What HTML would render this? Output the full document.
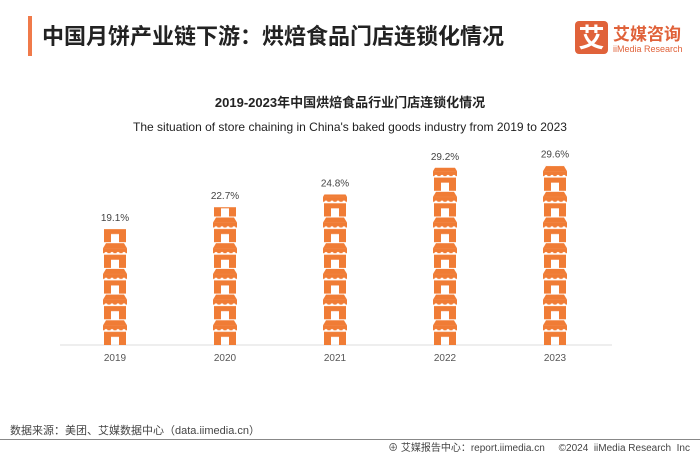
<!DOCTYPE html>
<html><head><meta charset="utf-8"><style>
body{margin:0;width:700px;height:455px;background:#fff;overflow:hidden;font-family:"Liberation Sans","Noto Sans CJK SC",sans-serif}
</style></head><body>
<svg width="700" height="455" viewBox="0 0 700 455" xmlns="http://www.w3.org/2000/svg">
<rect x="28" y="16" width="4" height="40" fill="#f07a4a"/>
<text x="42" y="44" font-size="22" font-weight="bold" fill="#222" font-family="Liberation Sans,Noto Sans CJK SC,sans-serif">中国月饼产业链下游：烘焙食品门店连锁化情况</text>
<g>
<rect x="575" y="21" width="33" height="33" rx="4" fill="#e0623a"/>
<text x="591.5" y="47" font-size="26" font-weight="bold" fill="#fff" text-anchor="middle" font-family="Noto Sans CJK SC,sans-serif">艾</text>
<text x="613" y="40" font-size="17" font-weight="bold" fill="#e0623a" font-family="Noto Sans CJK SC,sans-serif">艾媒咨询</text>
<text x="613" y="52" font-size="9" fill="#e0623a">iiMedia Research</text>
</g>
<text x="350" y="107" font-size="13" font-weight="bold" fill="#222" text-anchor="middle" font-family="Liberation Sans,Noto Sans CJK SC,sans-serif">2019-2023年中国烘焙食品行业门店连锁化情况</text>
<text x="350" y="131" font-size="12" fill="#222" text-anchor="middle">The situation of store chaining in China's baked goods industry from 2019 to 2023</text>
<line x1="60" y1="345" x2="612" y2="345" stroke="#ddd" stroke-width="1"/>
<defs id="defs"></defs>
<g id="bars"></g>
<text x="10" y="434" font-size="11" fill="#444" font-family="Liberation Sans,Noto Sans CJK SC,sans-serif">数据来源：美团、艾媒数据中心（data.iimedia.cn）</text>
<line x1="0" y1="439.5" x2="700" y2="439.5" stroke="#888" stroke-width="1"/>
<text x="690" y="451" font-size="10" fill="#444" text-anchor="end" font-family="Liberation Sans,Noto Sans CJK SC,sans-serif" xml:space="preserve">⊕ 艾媒报告中心：report.iimedia.cn     ©2024  iiMedia Research  Inc</text>
</svg>
<script>
const categories=['2019','2020','2021','2022','2023'];
const values=[19.1,22.7,24.8,29.2,29.6];
const labels=['19.1%','22.7%','24.8%','29.2%','29.6%'];
const NS='http://www.w3.org/2000/svg';
const base=345,pxPer=6.07,x0=115,step=110,W=24,H=25.7;
const yScale=v=>base-v*pxPer;
const xScale=i=>x0+i*step;
const defs=document.getElementById('defs'),g=document.getElementById('bars');
function mk(t,a){const e=document.createElementNS(NS,t);for(const k in a)e.setAttribute(k,a[k]);return e;}
categories.forEach((c,i)=>{
 const cx=xScale(i),left=cx-W/2,top=yScale(values[i]);
 const p=mk('pattern',{id:'p'+i,patternUnits:'userSpaceOnUse',x:left,y:base,width:W,height:H});
 p.appendChild(mk('polygon',{points:'3,1 21,1 24,6 0,6',fill:'#f07c35'}));
 p.appendChild(mk('rect',{x:0,y:6,width:24,height:5,fill:'#f07c35'}));
 [3,9,15,21].forEach(sx=>p.appendChild(mk('circle',{cx:sx,cy:11.3,r:1.6,fill:'#fff'})));
 p.appendChild(mk('path',{d:'M1,12.5H23V25.7H16V17.5H8V25.7H1Z',fill:'#f07c35'}));
 defs.appendChild(p);
 const r=mk('rect',{x:left,y:top,width:W,height:base-top,fill:'url(#p'+i+')'});
 
 
 g.appendChild(r);
 const t=mk('text',{x:cx,y:top-8,'font-size':10,fill:'#444','text-anchor':'middle'});
 t.textContent=labels[i];
 
 
 g.appendChild(t);
 const yl=mk('text',{x:cx,y:361,'font-size':10,fill:'#555','text-anchor':'middle'});
 yl.textContent=c;
 
 
 g.appendChild(yl);
});
</script>
</body></html>
